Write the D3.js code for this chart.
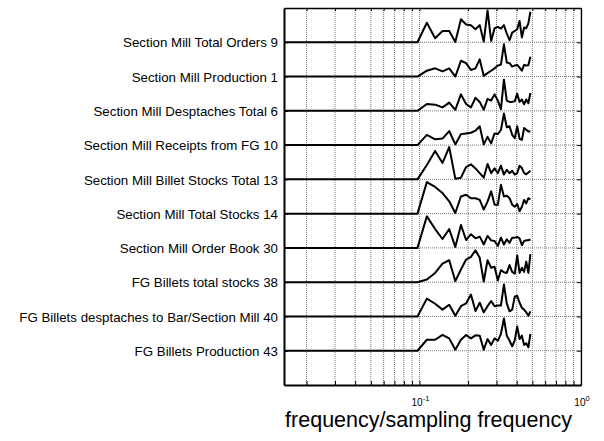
<!DOCTYPE html>
<html>
<head>
<meta charset="utf-8">
<script src="https://cdnjs.cloudflare.com/ajax/libs/d3/7.8.5/d3.min.js"></script>
<style>
body { margin: 0; background: #fff; }
text { font-family: "Liberation Sans", Arial, sans-serif; }
</style>
</head>
<body>
<div id="viz"></div>
<script>
var labels = ['Section Mill Total Orders 9', 'Section Mill Production 1', 'Section Mill Desptaches Total 6',
  'Section Mill Receipts from FG 10', 'Section Mill Billet Stocks Total 13', 'Section Mill Total Stocks 14',
  'Section Mill Order Book 30', 'FG Billets total stocks 38', 'FG Billets desptaches to Bar/Section Mill 40',
  'FG Billets Production 43']

// frequency / sampling frequency
var freq = [0.0145, 0.0972, 0.1111, 0.125, 0.1389, 0.1528, 0.1667, 0.1806, 0.1944, 0.2083,
  0.2222, 0.2361, 0.25, 0.2639, 0.2778, 0.2917, 0.3056, 0.3194, 0.3333, 0.3472,
  0.3611, 0.375, 0.3889, 0.4028, 0.4167, 0.4306, 0.4444, 0.4583, 0.4722, 0.4861]

var s9 = [0, 0, 0.57, 0.12, 0.33, 0.33, 0.01, 0.67, 0.52, 0.5, 0.38, 0.5, 0.02, 0.93, 0.04, 0.41, 0.45, 0.4, 0.5, 0.25, 0.06, 0.28, 0.33, 0.38, 0.62, 0.14, 0.43, 0.41, 0.55, 0.89]
var s1 = [0, 0, 0.17, 0.24, 0.15, 0.24, 0, 0.46, 0.39, 0.19, 0.24, 0.5, 0.02, 0.1, 0.17, 0.24, 0.32, 0.35, 0.94, 0.41, 0.39, 0.29, 0.32, 0.34, 0.26, 0.17, 0.34, 0.32, 0.33, 0.58]
var s6 = [0, 0, 0.2, 0.18, 0.1, 0.24, 0.03, 0.48, 0.2, 0.1, 0.38, 0.26, 0.03, 0.35, 0.3, 0.48, 0.3, 0.05, 0.91, 0.3, 0.26, 0.26, 0.28, 0.5, 0.26, 0.33, 0.19, 0.33, 0.22, 0.52]
var s10 = [0, 0, 0.3, 0.17, 0.19, 0.41, 0.02, 0.32, 0.34, 0.36, 0.42, 0.55, 0.02, 0.24, 0.05, 0.34, 0.32, 0.44, 0.92, 0.52, 0.55, 0.3, 0.2, 0.55, 0.18, 0.15, 0.5, 0.45, 0.4, 0.4]
var s13 = [0, 0, 0.42, 0.83, 0.48, 0.94, 0.02, 0.05, 0.36, 0.44, 0.32, 0.18, 0.05, 0.45, 0.18, 0.32, 0.18, 0.4, 0.14, 0.28, 0.18, 0.25, 0.14, 0.18, 0.4, 0.33, 0.18, 0.15, 0.2, 0.25]
var s14 = [0, 0, 0.92, 0.78, 0.6, 0.36, 0.02, 0.5, 0.55, 0.45, 0.45, 0.4, 0.12, 0.35, 0.65, 0.26, 0.26, 0.84, 0.5, 0.52, 0.45, 0.26, 0.2, 0.28, 0.07, 0.2, 0.4, 0.3, 0.45, 0.42]
var s30 = [0, 0, 0.92, 0.55, 0.26, 0.55, 0.03, 0.67, 0.23, 0.4, 0.28, 0.33, 0.1, 0.35, 0.22, 0.2, 0.06, 0.3, 0.1, 0.25, 0.15, 0.3, 0.3, 0.32, 0.28, 0.08, 0.2, 0.22, 0.22, 0.25]
var s38 = [0, 0, 0.08, 0.27, 0.54, 0.64, 0.03, 0.37, 0.66, 0.74, 0.93, 0.71, 0.02, 0.64, 0.42, 0.45, 0.05, 0.35, 0.29, 0.27, 0.5, 0.3, 0.25, 0.78, 0.27, 0.42, 0.3, 0.6, 0.27, 0.82]
var s40 = [0, 0, 0.52, 0.37, 0.2, 0.34, 0.02, 0.3, 0.38, 0.64, 0.16, 0.4, 0.12, 0.3, 0.45, 0.3, 0.32, 0.32, 0.93, 0.38, 0.15, 0.2, 0.58, 0.6, 0.4, 0.25, 0.2, 0.12, 0.02, 0.15]
var s43 = [0, 0, 0.32, 0.32, 0.46, 0.36, 0.03, 0.32, 0.46, 0.36, 0.45, 0.44, 0.03, 0.34, 0.17, 0.36, 0.29, 0.49, 0.94, 0.44, 0.29, 0.13, 0.3, 0.71, 0.34, 0.44, 0.17, 0.22, 0.1, 0.49]

var series = [s9, s1, s6, s10, s13, s14, s30, s38, s40, s43]
var baseTicks = [1, 2, 3, 4, 5, 6, 7, 8, 9, 10]

var margin = {top: 8, bottom: 56, left: 284, right: 23};

var width = 604 - margin.left - margin.right,
    height = 441 - margin.top - margin.bottom;

var xScale = d3.scaleLog()
    .domain([0.0145, 1])
    .range([0, width])

var yScale = d3.scaleLinear()
    .domain([0, 11])
    .range([height, 0])

var xTicks = xScale.ticks()

var svg = d3.select('#viz')
  .append('svg')
  .attr('width', width + margin.left + margin.right)
  .attr('height', height + margin.top + margin.bottom)
  .style('background', '#fff')

var chart = svg.append('g')
  .attr('transform', 'translate(' + margin.left + ',' + margin.top + ')')

// dotted grid
chart.append('g').selectAll('line').data(xTicks)
  .enter().append('line')
  .attr('x1', function(d) { return xScale(d); })
  .attr('x2', function(d) { return xScale(d); })
  .attr('y1', 0)
  .attr('y2', height)
  .style('stroke', '#777')
  .style('stroke-width', 1)
  .style('stroke-dasharray', '1,1')

chart.append('g').selectAll('line').data(baseTicks)
  .enter().append('line')
  .attr('x1', 0)
  .attr('x2', width)
  .attr('y1', function(d) { return yScale(d); })
  .attr('y2', function(d) { return yScale(d); })
  .style('stroke', '#777')
  .style('stroke-width', 1)
  .style('stroke-dasharray', '1,1')

// axes, ticks pointing inwards
var bottomAxis = chart.append('g')
  .attr('transform', 'translate(0,' + height + ')')
  .call(d3.axisBottom(xScale).tickValues(xTicks).tickSize(-4).tickSizeOuter(0).tickFormat(''))

var topAxis = chart.append('g')
  .call(d3.axisTop(xScale).tickValues(xTicks).tickSize(-3).tickSizeOuter(0).tickFormat(''))

var leftAxis = chart.append('g')
  .call(d3.axisLeft(yScale).tickValues(baseTicks).tickSize(-4).tickSizeOuter(0).tickPadding(6)
    .tickFormat(function(d) { return labels[10 - d]; }))

var rightAxis = chart.append('g')
  .attr('transform', 'translate(' + width + ',0)')
  .call(d3.axisRight(yScale).tickValues(baseTicks).tickSize(-4).tickSizeOuter(0).tickFormat(''))

chart.selectAll('.domain').style('stroke', '#000').style('stroke-width', 1.3)
bottomAxis.select('.domain').style('stroke-width', 2)
leftAxis.select('.domain').style('stroke-width', 2)
chart.selectAll('.tick line').style('stroke', '#000')
leftAxis.selectAll('text')
  .style('font-size', '13.3px')
  .style('fill', '#000')
  .attr('dy', '0.35em')

// decade labels
var decades = [0.1, 1]
var expo = ['-1', '0']
var dl = chart.append('g').selectAll('text').data(decades)
  .enter().append('text')
  .attr('x', function(d) { return xScale(d) + 1; })
  .attr('y', height + 21)
  .attr('text-anchor', 'middle')
  .style('font-size', '10px')
dl.append('tspan').text('10')
dl.append('tspan')
  .attr('dy', -5)
  .style('font-size', '7.5px')
  .text(function(d, i) { return expo[i]; })

chart.append('text')
  .attr('x', width / 2 - 4)
  .attr('y', height + 42)
  .attr('text-anchor', 'middle')
  .style('font-size', '21.5px')
  .text('frequency/sampling frequency')

// spectra
var line = d3.line()
  .x(function(d) { return xScale(d[0]); })
  .y(function(d) { return yScale(d[1]); })

chart.append('g').selectAll('path').data(series)
  .enter().append('path')
  .attr('d', function(s, i) {
    var base = 10 - i;
    return line(s.map(function(v, j) { return [freq[j], base + v]; }));
  })
  .style('fill', 'none')
  .style('stroke', '#000')
  .style('stroke-width', 2)
  .style('stroke-linejoin', 'round')
</script>
</body>
</html>
